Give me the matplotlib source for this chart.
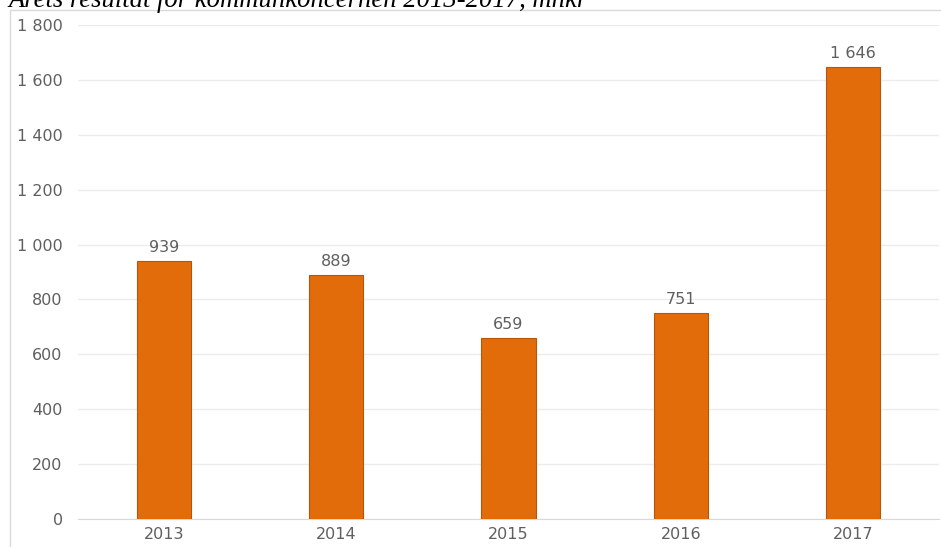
import matplotlib.pyplot as plt
from matplotlib.patches import Rectangle
from matplotlib.ticker import FuncFormatter

# Data
years = ['2013', '2014', '2015', '2016', '2017']
resultat = [939, 889, 659, 751, 1646]
yticks = [0, 200, 400, 600, 800, 1000, 1200, 1400, 1600, 1800]

def fmt(v):
    # svensk tusentalsavgränsare (mellanslag)
    return f"{int(v):,}".replace(",", " ")

plt.rcParams['font.family'] = ['DejaVu Sans']

fig = plt.figure(figsize=(9.41, 5.47), dpi=100)
fig.patches.append(Rectangle((10 / 941, -0.1), 2, 1.1 - 10 / 547, transform=fig.transFigure,
                             fill=False, edgecolor='#d9d9d9', lw=1))
ax = fig.add_axes([78 / 941, 28 / 547, (939 - 78) / 941, (519 - 25) / 547])

x = range(len(years))
bars = ax.bar(x, resultat, width=0.315, color='#e36c0a', edgecolor='#b5560a', linewidth=0.8, zorder=3)
for xi, v in zip(x, resultat):
    ax.text(xi, v + 22, fmt(v), ha='center', va='bottom', fontsize=11.5, color='#5f5f5f')

ax.set_xlim(-0.5, len(years) - 0.5)
ax.set_ylim(0, 1800)
ax.set_yticks(yticks)
ax.yaxis.set_major_formatter(FuncFormatter(lambda v, p: fmt(v)))
ax.set_xticks(list(x))
ax.set_xticklabels(years)
ax.grid(axis='y', color='#ececec', lw=1, zorder=0)
ax.tick_params(length=0, labelsize=11.5, colors='#5f5f5f')
ax.tick_params(axis='y', pad=11)
ax.tick_params(axis='x', pad=6)
for s in ['top', 'right', 'left']:
    ax.spines[s].set_visible(False)
ax.spines['bottom'].set_color('#d9d9d9')

fig.text(8 / 941, 1.0 - 7 / 547, 'Årets resultat för kommunkoncernen 2013-2017, mnkr',
         family=['Liberation Serif', 'DejaVu Serif'], style='italic', fontsize=19.2,
         ha='left', va='baseline', color='black')

fig.savefig('out.png', dpi=100)
